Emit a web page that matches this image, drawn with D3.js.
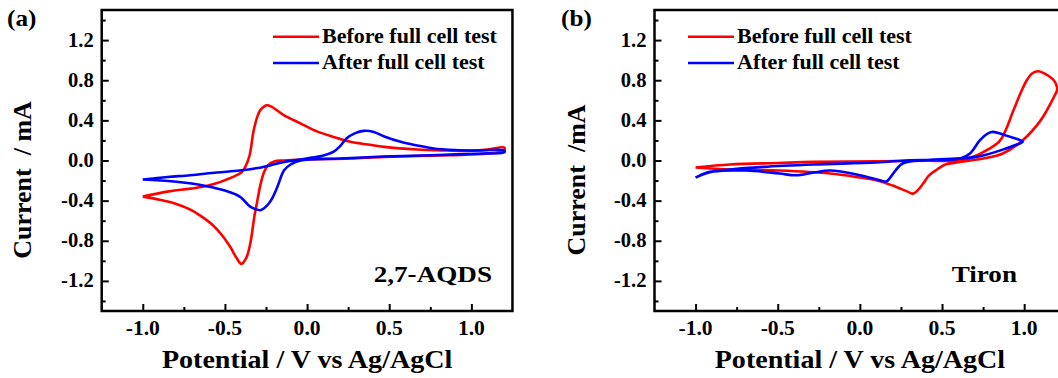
<!DOCTYPE html>
<html>
<head>
<meta charset="utf-8">
<script src="https://cdn.jsdelivr.net/npm/d3@7.9.0/dist/d3.min.js"></script>
<style>
  html, body { margin: 0; padding: 0; background: #fff; }
  svg { display: block; }
  text { font-family: "Liberation Serif", "Times New Roman", serif; font-weight: bold; fill: #000; white-space: pre; }
</style>
</head>
<body>
<svg id="chart" width="1058" height="378"></svg>
<script>
// ---- data (potential in V, current in mA) ----
const xTicks = [-1.0, -0.5, 0.0, 0.5, 1.0];
const yTicks = [-1.2, -0.8, -0.4, 0.0, 0.4, 0.8, 1.2];
const seriesNames = ['Before full cell test', 'After full cell test'];

// (a) 2,7-AQDS, before
const aRedV = [-1.0, -0.85, -0.71, -0.6, -0.45, -0.40, -0.376, -0.35, -0.325, -0.30, -0.285, -0.26, -0.244, -0.22, -0.14, -0.04, 0.06, 0.16, 0.264, 0.37, 0.47, 0.67, 0.85, 0.975, 1.1, 1.2,
  1.2, 1.1, 0.875, 0.47, 0.264, 0.0, -0.14, -0.2, -0.24, -0.265, -0.285, -0.305, -0.32, -0.346, -0.37, -0.40, -0.43, -0.468, -0.52, -0.57, -0.65, -0.71, -0.80, -0.915, -1.0];
const aRedI = [-0.36, -0.31, -0.28, -0.25, -0.163, -0.12, -0.064, 0.05, 0.30, 0.45, 0.50, 0.54, 0.55, 0.54, 0.45, 0.37, 0.29, 0.235, 0.186, 0.16, 0.136, 0.11, 0.10, 0.096, 0.11, 0.13,
  0.10, 0.07, 0.053, 0.036, 0.02, 0.01, 0.0, -0.01, -0.05, -0.13, -0.25, -0.42, -0.55, -0.83, -0.97, -1.03, -0.97, -0.86, -0.74, -0.65, -0.55, -0.49, -0.43, -0.385, -0.36];

// (a) 2,7-AQDS, after
const aBlueV = [-1.0, -0.85, -0.71, -0.55, -0.41, -0.30, -0.22, -0.14, -0.04, 0.06, 0.12, 0.16, 0.20, 0.24, 0.29, 0.345, 0.406, 0.47, 0.57, 0.67, 0.77, 0.9, 1.05, 1.2,
  1.2, 1.075, 0.8, 0.47, 0.2, -0.04, -0.1, -0.14, -0.18, -0.21, -0.244, -0.285, -0.32, -0.346, -0.41, -0.5, -0.61, -0.81, -1.0];
const aBlueI = [-0.19, -0.165, -0.147, -0.12, -0.10, -0.075, -0.047, -0.014, 0.01, 0.036, 0.06, 0.086, 0.14, 0.22, 0.27, 0.295, 0.285, 0.24, 0.186, 0.15, 0.12, 0.105, 0.10, 0.10,
  0.08, 0.07, 0.055, 0.04, 0.02, 0.0, -0.04, -0.097, -0.26, -0.37, -0.45, -0.495, -0.48, -0.46, -0.36, -0.30, -0.256, -0.21, -0.19];

// (b) Tiron, before
const bRedV = [-1.0, -0.79, -0.5, -0.28, 0.1, 0.4, 0.61, 0.71, 0.78, 0.854, 0.935, 0.98, 1.016, 1.05, 1.087, 1.13, 1.18, 1.2,
  1.2, 1.18, 1.10, 0.99, 0.87, 0.75, 0.61, 0.52, 0.47, 0.42, 0.385, 0.35, 0.325, 0.29, 0.20, 0.10, 0.0, -0.18, -0.49, -0.79, -1.0];
const bRedI = [-0.07, -0.04, -0.025, -0.014, -0.007, -0.003, 0.003, 0.05, 0.11, 0.20, 0.50, 0.68, 0.80, 0.87, 0.89, 0.86, 0.80, 0.73,
  0.70, 0.63, 0.40, 0.20, 0.07, 0.02, -0.014, -0.04, -0.09, -0.15, -0.23, -0.30, -0.33, -0.31, -0.25, -0.196, -0.17, -0.13, -0.10, -0.09, -0.07];

// (b) Tiron, after
const bBlueV = [-1.0, -0.93, -0.79, -0.59, -0.28, 0.10, 0.30, 0.61, 0.67, 0.73, 0.78, 0.81, 0.87, 0.99,
  0.99, 0.89, 0.71, 0.405, 0.26, 0.18, 0.16, 0.12, 0.0, -0.18, -0.28, -0.39, -0.49, -0.69, -0.89, -1.0];
const bBlueI = [-0.17, -0.12, -0.09, -0.064, -0.04, -0.02, 0.003, 0.02, 0.07, 0.20, 0.27, 0.285, 0.26, 0.19,
  0.185, 0.12, 0.036, 0.003, -0.03, -0.18, -0.21, -0.196, -0.147, -0.10, -0.12, -0.147, -0.13, -0.10, -0.11, -0.17];

const panels = [
  { tag: '(a)', name: '2,7-AQDS', left: 101.7, tagX: 7, yTitleX: 22, nameX: 492,
    legendX: 273, red: [aRedV, aRedI], blue: [aBlueV, aBlueI], yTitle: 'Current  / mA' },
  { tag: '(b)', name: 'Tiron', left: 654.5, tagX: 561, yTitleX: 576, nameX: 1017,
    legendX: 688, red: [bRedV, bRedI], blue: [bBlueV, bBlueI], yTitle: 'Current  /mA' }
];

const svg = d3.select('#chart');
const pxPerVolt = 164.3;

function label(g, x, y, txt, size, anchor, sx, rot) {
  return g.append('text')
    .attr('transform', `translate(${x},${y}) rotate(${rot || 0}) scale(${sx},1)`)
    .attr('text-anchor', anchor)
    .attr('xml:space', 'preserve')
    .style('font-size', size + 'px')
    .text(txt);
}

panels.forEach((p) => {
  const x = d3.scaleLinear().domain([-1.25, 1.25]).range([p.left, p.left + 2.5 * pxPerVolt]);
  const y = d3.scaleLinear().domain([-1.5, 1.5]).range([311, 10]);
  const g = svg.append('g');

  // curves
  const line = d3.line()
    .x((d) => x(d[0]))
    .y((d) => y(d[1]))
    .curve(d3.curveCatmullRom.alpha(0.5));

  [[p.red, '#ff0000'], [p.blue, '#0000ff']].forEach(([s, color]) => {
    const pts = d3.zip(s[0], s[1]);
    g.append('path')
      .attr('d', line(pts))
      .attr('fill', 'none')
      .attr('stroke', color)
      .attr('stroke-width', 2.6)
      .attr('stroke-linejoin', 'round');
  });

  // frame
  g.append('rect')
    .attr('x', x(-1.25)).attr('y', y(1.5))
    .attr('width', x(1.25) - x(-1.25)).attr('height', y(-1.5) - y(1.5))
    .attr('fill', 'none').attr('stroke', '#000').attr('stroke-width', 2.5);

  // inward ticks, bottom
  const xAxis = d3.axisBottom(x).tickValues(d3.range(-1.0, 1.01, 0.25)).tickSizeInner(-4).tickSizeOuter(0).tickFormat('');
  const xa = g.append('g').attr('transform', `translate(0,${y(-1.5)})`).call(xAxis);
  xa.select('.domain').remove();
  xa.selectAll('line').attr('stroke-width', 2)
    .attr('y2', (d) => (Math.abs(d * 2 - Math.round(d * 2)) < 1e-6 ? -7 : -4));

  // inward ticks, left
  const yAxis = d3.axisLeft(y).tickValues(d3.range(-1.4, 1.41, 0.2)).tickSizeInner(-4).tickSizeOuter(0).tickFormat('');
  const ya = g.append('g').attr('transform', `translate(${x(-1.25)},0)`).call(yAxis);
  ya.select('.domain').remove();
  ya.selectAll('line').attr('stroke-width', 2)
    .attr('x2', (d) => (yTicks.some((t) => Math.abs(t - d) < 1e-6) ? 7 : 4));

  // tick labels
  xTicks.forEach((t) => label(g, x(t), 335, d3.format('.1f')(t).replace('−', '-'), 20, 'middle', 1.08));
  yTicks.forEach((t) => label(g, x(-1.25) - 8, y(t) + 6.5, d3.format('.1f')(t).replace('−', '-'), 20, 'end', 1.03));

  // axis titles
  label(g, x(0), 368, 'Potential / V vs Ag/AgCl', 25.5, 'middle', 1.1);
  label(g, p.yTitleX + 9, 180, p.yTitle, 26, 'middle', 1, -90);

  // panel tag and compound name
  label(g, p.tagX, 26, p.tag, 24, 'start', 1.05);
  label(g, p.nameX, 282, p.name, 23, 'end', 1.18);

  // legend
  [['#ff0000', 36.7, seriesNames[0]], ['#0000ff', 63, seriesNames[1]]].forEach(([c, ly, txt]) => {
    g.append('line')
      .attr('x1', p.legendX).attr('x2', p.legendX + 46)
      .attr('y1', ly).attr('y2', ly)
      .attr('stroke', c).attr('stroke-width', 2.6);
    label(g, p.legendX + 49, ly + 6, txt, 20, 'start', 1.1);
  });
});
</script>
</body>
</html>
